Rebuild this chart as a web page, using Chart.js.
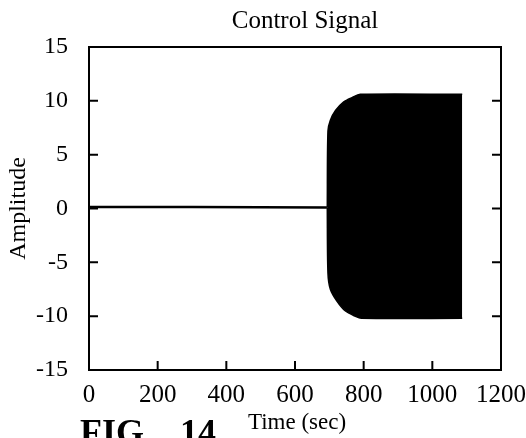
<!DOCTYPE html>
<html>
<head>
<meta charset="utf-8">
<script src="https://cdn.jsdelivr.net/npm/chart.js@4.4.1/dist/chart.umd.min.js"></script>
<style>
  html, body { margin: 0; padding: 0; background: #fff; }
  #wrap { width: 526px; height: 438px; position: relative; }
</style>
</head>
<body>
<div id="wrap"><canvas id="chart" width="526" height="438"></canvas></div>
<script>
// Control signal (time in sec, amplitude)
const baseTime = [0, 300, 693];
const baseAmp = [0.15, 0.15, 0.1];

// envelope of the dense oscillation after ~695 s
const upperTime = [694, 696, 703, 718, 742, 766, 790, 1087];
const upperAmp = [0.1, 7.2, 8.2, 9.1, 9.9, 10.3, 10.6, 10.6];
const lowerTime = [694, 696, 703, 722, 746, 775, 794, 1087];
const lowerAmp = [0.1, -6.0, -7.5, -8.6, -9.5, -10.0, -10.2, -10.2];

const xTicks = [0, 200, 400, 600, 800, 1000, 1200];
const yTicks = [-15, -10, -5, 0, 5, 10, 15];

const serif = '"Liberation Serif", "DejaVu Serif", serif';

function pts(xs, ys) {
    return xs.map((x, i) => ({ x: x, y: ys[i] }));
}

// frame, inward ticks and the extra labels
const framePlugin = {
    id: 'frame',
    afterDraw(chart) {
        const ctx = chart.ctx;
        const a = chart.chartArea;
        const xs = chart.scales.x;
        const ys = chart.scales.y;
        ctx.save();
        ctx.strokeStyle = '#000';
        ctx.lineWidth = 2;
        ctx.strokeRect(a.left, a.top, a.right - a.left, a.bottom - a.top);

        const tl = 9;
        ctx.beginPath();
        yTicks.slice(1, -1).forEach(v => {
            const y = ys.getPixelForValue(v);
            ctx.moveTo(a.left, y); ctx.lineTo(a.left + tl, y);
            ctx.moveTo(a.right, y); ctx.lineTo(a.right - tl, y);
        });
        xTicks.slice(1, -1).forEach(v => {
            const x = xs.getPixelForValue(v);
            ctx.moveTo(x, a.bottom); ctx.lineTo(x, a.bottom - tl);
        });
        ctx.stroke();

        ctx.fillStyle = '#000';
        ctx.textAlign = 'center';
        ctx.textBaseline = 'alphabetic';
        ctx.font = '25px ' + serif;
        ctx.fillText('Control Signal', 305, 28);
        ctx.font = '23px ' + serif;
        ctx.fillText('Time (sec)', 297, 429);

        ctx.save();
        ctx.font = '24px ' + serif;
        ctx.translate(25, (a.top + a.bottom) / 2);
        ctx.rotate(-Math.PI / 2);
        ctx.fillText('Amplitude', 0, 0);
        ctx.restore();

        ctx.textAlign = 'left';
        ctx.font = 'bold 36px ' + serif;
        ctx.fillText('FIG.', 80, 444);
        ctx.fillText('14', 180, 444);
        ctx.restore();
    }
};

new Chart(document.getElementById('chart'), {
    type: 'line',
    data: {
        datasets: [
            {
                label: 'base',
                data: pts(baseTime, baseAmp),
                borderColor: '#000',
                borderWidth: 2.5,
                pointRadius: 0,
                fill: false
            },
            {
                label: 'upper',
                data: pts(upperTime, upperAmp),
                borderColor: '#000',
                backgroundColor: '#000',
                borderWidth: 1.5,
                pointRadius: 0,
                tension: 0.3,
                fill: '+1'
            },
            {
                label: 'lower',
                data: pts(lowerTime, lowerAmp),
                borderColor: '#000',
                borderWidth: 1.5,
                pointRadius: 0,
                tension: 0.3,
                fill: false
            }
        ]
    },
    options: {
        responsive: false,
        animation: false,
        events: [],
        layout: { padding: { left: 0, right: 25, top: 47, bottom: 28 } },
        plugins: {
            legend: { display: false },
            tooltip: { enabled: false }
        },
        scales: {
            x: {
                type: 'linear',
                min: 0,
                max: 1200,
                afterBuildTicks: s => { s.ticks = xTicks.map(v => ({ value: v })); },
                afterFit: s => {
                    s.height = 40;
                    s.paddingLeft = 0;
                    s.paddingRight = 0;
                },
                grid: { display: false, drawTicks: false },
                border: { display: false },
                ticks: {
                    color: '#000',
                    padding: 10,
                    maxRotation: 0,
                    callback: v => String(v),
                    font: { family: serif, size: 25 }
                }
            },
            y: {
                min: -15,
                max: 15,
                afterBuildTicks: s => { s.ticks = yTicks.map(v => ({ value: v })); },
                afterFit: s => {
                    s.width = 89;
                    s.paddingTop = 0;
                    s.paddingBottom = 0;
                },
                grid: { display: false, drawTicks: false },
                border: { display: false },
                ticks: {
                    color: '#000',
                    padding: 21,
                    callback: v => String(v),
                    font: { family: serif, size: 24 }
                }
            }
        }
    },
    plugins: [framePlugin]
});
</script>
</body>
</html>
